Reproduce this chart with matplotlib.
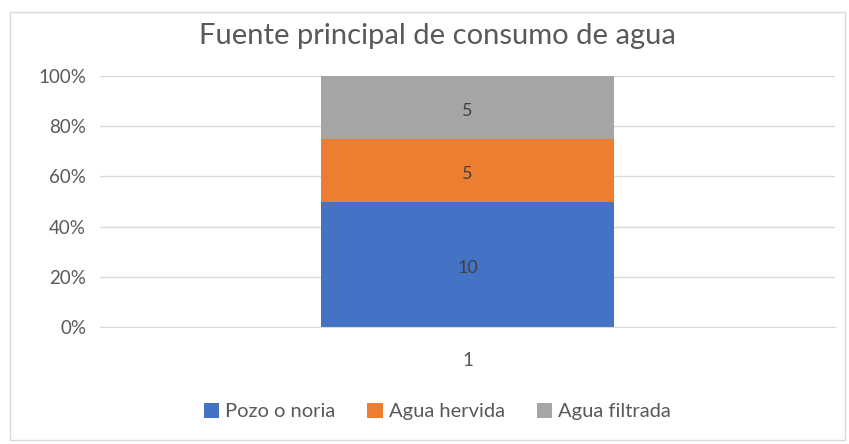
import matplotlib.pyplot as plt
from matplotlib.patches import Rectangle

plt.rcParams['font.family'] = ['Lato', 'DejaVu Sans']

categories = ["1"]
series_names = ["Pozo o noria", "Agua hervida", "Agua filtrada"]
series_values = [10, 5, 5]
colors = ["#4472C4", "#ED7D31", "#A5A5A5"]
yticks = [0, 20, 40, 60, 80, 100]

total = sum(series_values)
fig = plt.figure(figsize=(8.49, 4.44), dpi=100)
ax = fig.add_axes([0.1178, 0.2635, 0.8657, 0.5653])

bottom = 0
for name, val, col in zip(series_names, series_values, colors):
    pct = val / total * 100
    ax.bar(0.5, pct, width=0.4, bottom=bottom, color=col, label=name, zorder=2)
    ax.text(0.5, bottom + pct / 2 - 1.5, str(val), ha='center', va='center',
            fontsize=13, color='#404040', zorder=3)
    bottom += pct

ax.set_xlim(0, 1)
ax.set_ylim(0, 100)
ax.set_yticks(yticks)
ax.set_yticklabels([f"{t}%" for t in yticks])
ax.set_xticks([0.5])
ax.set_xticklabels(categories)
ax.tick_params(axis='both', length=0, labelsize=13.5, colors='#595959')
ax.tick_params(axis='x', pad=18)
ax.tick_params(axis='y', pad=10)
ax.grid(axis='y', color='#D9D9D9', linewidth=1, zorder=0)
for s in ['top', 'right', 'left']:
    ax.spines[s].set_visible(False)
ax.spines['bottom'].set_color('#D9D9D9')

fig.text(0.515, 0.92, "Fuente principal de consumo de agua", ha='center', va='center',
         fontsize=21, color='#595959')

fig.legend(loc='center', bbox_to_anchor=(0.515, 0.073), ncol=3, frameon=False,
           fontsize=14.5, handlelength=0.75, handleheight=0.75, handletextpad=0.3,
           columnspacing=1.6, labelcolor='#595959')

fig.patches.append(Rectangle((10 / 849, 4 / 444), 835 / 849, 428 / 444,
                             transform=fig.transFigure, fill=False,
                             edgecolor='#D9D9D9', linewidth=1))

fig.savefig("out.png", dpi=100)
